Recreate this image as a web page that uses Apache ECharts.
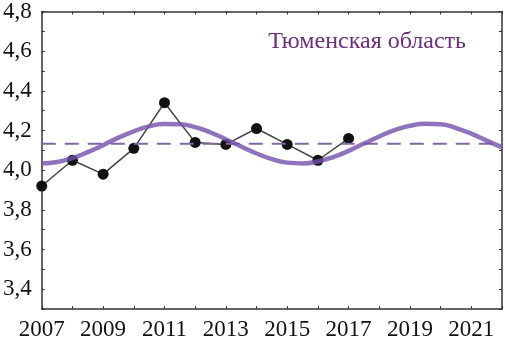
<!DOCTYPE html>
<html>
<head>
<meta charset="utf-8">
<script src="https://cdn.jsdelivr.net/npm/echarts@6/dist/echarts.min.js"></script>
<style>html,body{margin:0;padding:0;background:#fff}</style>
</head>
<body>
<div id="main" style="width:505px;height:341px"></div>
<script type="text/javascript">
    // наблюдённые значения по годам
    var years = [2007, 2008, 2009, 2010, 2011, 2012, 2013, 2014, 2015, 2016, 2017];
    var values = [3.92, 4.05, 3.98, 4.11, 4.34, 4.14, 4.13, 4.21, 4.13, 4.05, 4.16];

    // сглаживающая кривая (шаг полгода)
    var fitYears = [2007, 2007.5, 2008, 2008.5, 2009, 2009.5, 2010, 2010.5, 2011, 2011.5, 2012, 2012.5,
        2013, 2013.5, 2014, 2014.5, 2015, 2015.5, 2016, 2016.5, 2017, 2017.5, 2018, 2018.5,
        2019, 2019.5, 2020, 2020.5, 2021, 2021.5, 2022];
    var fitValues = [4.034, 4.041, 4.061, 4.091, 4.126, 4.164, 4.196, 4.221, 4.233, 4.232, 4.217, 4.190,
        4.156, 4.119, 4.084, 4.056, 4.038, 4.034, 4.044, 4.066, 4.097, 4.134, 4.170, 4.202,
        4.224, 4.234, 4.232, 4.212, 4.184, 4.149, 4.115];

    var meanLevel = 4.133;
    var title = 'Тюменская область';

    var myChart = echarts.init(document.getElementById('main'));

    var pts = years.map(function (y, i) { return [y, values[i]]; });
    var fit = fitYears.map(function (y, i) { return [y, fitValues[i]]; });

    var font = '"Liberation Serif", "DejaVu Serif", serif';
    var axisCol = '#333';

    function xAxisCfg(pos, labels) {
        return {
            type: 'value', position: pos, min: 2007, max: 2022, interval: 1,
            axisLine: { show: true, onZero: false, lineStyle: { color: axisCol, width: 1.5 } },
            axisTick: { show: true, inside: true, length: 3, lineStyle: { color: axisCol } },
            splitLine: { show: false },
            axisLabel: {
                show: labels, margin: 9, color: '#111', fontFamily: font, fontSize: 23,
                formatter: function (v) { return v % 2 === 1 ? String(v) : ''; }
            }
        };
    }
    function yAxisCfg(pos, labels) {
        return {
            type: 'value', position: pos, min: 3.3, max: 4.8, interval: 0.1,
            axisLine: { show: true, lineStyle: { color: axisCol, width: 1.5 } },
            axisTick: { show: true, inside: true, length: 3, lineStyle: { color: axisCol } },
            splitLine: { show: false },
            axisLabel: {
                show: labels, margin: 10, color: '#111', fontFamily: font, fontSize: 23,
                padding: [12, 0, 0, 0],
                formatter: function (v) {
                    var k = Math.round(v * 10);
                    return k % 2 === 0 ? (k / 10).toFixed(1).replace('.', ',') : '';
                }
            }
        };
    }

    var option = {
        animation: false,
        grid: { left: 39, right: 2, top: 5, bottom: 31 },
        title: {
            text: title, right: 34, top: 25,
            textStyle: { fontFamily: font, fontSize: 24, fontWeight: 'normal', color: '#6b2f78' }
        },
        xAxis: [xAxisCfg('bottom', true), xAxisCfg('top', false)],
        yAxis: [yAxisCfg('left', true), yAxisCfg('right', false)],
        series: [
            {
                type: 'line', data: pts, symbol: 'circle', symbolSize: 11,
                lineStyle: { color: '#444', width: 1.5 },
                itemStyle: { color: '#111' }, z: 2
            },
            {
                type: 'line', data: [[2007, meanLevel], [2022, meanLevel]], symbol: 'none',
                lineStyle: { color: '#80689e', width: 2, type: [14, 9] }, z: 3
            },
            {
                type: 'line', data: fit, symbol: 'none', smooth: true,
                lineStyle: { color: '#7350ab', width: 4.5, opacity: 0.8 }, z: 4
            }
        ]
    };

    myChart.setOption(option);
</script>
</body>
</html>
